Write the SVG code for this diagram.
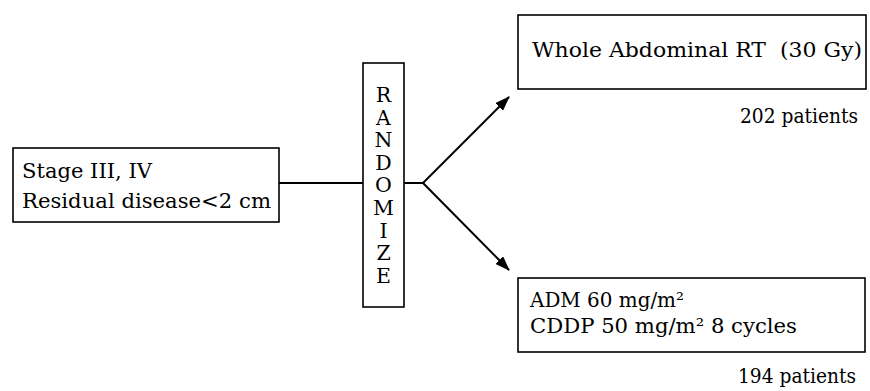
<svg xmlns="http://www.w3.org/2000/svg" width="870" height="391" viewBox="0 0 870 391">
<style>
.box{fill:#fff;stroke:#000;stroke-width:1.6}
.t{font-family:"DejaVu Serif","Liberation Serif",serif;font-size:20.5px;fill:#000;white-space:pre}
.ln{stroke:#000;stroke-width:2;fill:none}
</style>
<defs>
<marker id="ah" viewBox="0 0 15 11" refX="14" refY="5.5" markerWidth="15" markerHeight="11" markerUnits="userSpaceOnUse" orient="auto">
<path d="M0,0 L15,5.5 L0,11 z" fill="#000"/>
</marker>
</defs>
<rect width="870" height="391" fill="#fff"/>
<g id="connectors">
<line class="ln" x1="279" y1="183" x2="363" y2="183"/>
<line class="ln" x1="404" y1="183" x2="423" y2="183"/>
<path class="ln" d="M423,183 L509,97" marker-end="url(#ah)"/>
<path class="ln" d="M423,183 L509,270" marker-end="url(#ah)"/>
</g>
<g id="stage">
<rect class="box" x="13" y="148" width="266" height="74"/>
<text class="t" x="22" y="178" textLength="130" lengthAdjust="spacingAndGlyphs">Stage III, IV</text>
<text class="t" x="22" y="208" textLength="249" lengthAdjust="spacingAndGlyphs">Residual disease&lt;2 cm</text>
</g>
<g id="randomize">
<rect class="box" x="363" y="63" width="41" height="244"/>
<g class="t" text-anchor="middle">
<text x="383.5" y="102">R</text>
<text x="383.5" y="124.6">A</text>
<text x="383.5" y="147.2">N</text>
<text x="383.5" y="169.8">D</text>
<text x="383.5" y="192.4">O</text>
<text x="383.5" y="215">M</text>
<text x="383.5" y="237.6">I</text>
<text x="383.5" y="260.2">Z</text>
<text x="383.5" y="282.8">E</text>
</g>
</g>
<g id="rt">
<rect class="box" x="518" y="15" width="348" height="74"/>
<text class="t" x="532" y="57" textLength="330" lengthAdjust="spacingAndGlyphs">Whole Abdominal RT  (30 Gy)</text>
<text class="t" x="740" y="123" textLength="118" lengthAdjust="spacingAndGlyphs">202 patients</text>
</g>
<g id="chemo">
<rect class="box" x="518" y="278" width="347" height="74"/>
<text class="t" x="530" y="307" textLength="154" lengthAdjust="spacingAndGlyphs">ADM 60 mg/m²</text>
<text class="t" x="530" y="333" textLength="267" lengthAdjust="spacingAndGlyphs">CDDP 50 mg/m² 8 cycles</text>
<text class="t" x="738" y="383" textLength="118" lengthAdjust="spacingAndGlyphs">194 patients</text>
</g>
</svg>
